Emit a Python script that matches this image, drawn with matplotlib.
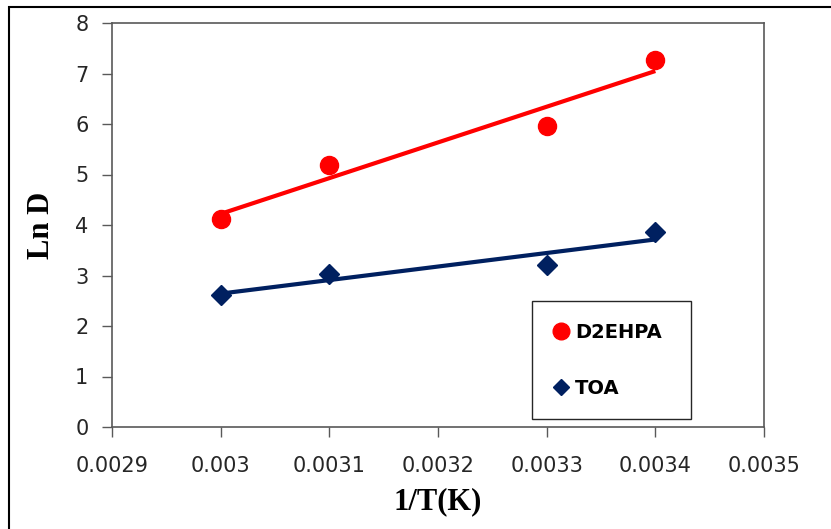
import numpy as np
import matplotlib
matplotlib.use('Agg')
import matplotlib.pyplot as plt
from matplotlib.patches import Rectangle
from matplotlib.lines import Line2D

# data
inv_T = [0.0030, 0.0031, 0.0033, 0.0034]
d2ehpa = [4.12, 5.19, 5.96, 7.27]
toa = [2.61, 3.03, 3.21, 3.86]

x_ticks = [0.0029, 0.0030, 0.0031, 0.0032, 0.0033, 0.0034, 0.0035]
x_labels = ['0.0029', '0.003', '0.0031', '0.0032', '0.0033', '0.0034', '0.0035']
y_ticks = [0, 1, 2, 3, 4, 5, 6, 7, 8]

RED = '#FF0000'
BLUE = '#002060'

fig = plt.figure(figsize=(8.31, 5.29), dpi=100)
ax = fig.add_axes([112 / 831, 1 - 427 / 529, 652 / 831, 404 / 529])

def trend(x, y, color):
    '''
        :return: Void - draws a linear trendline over the data range
    '''
    k, b = np.polyfit(x, y, 1)
    xs = np.array([min(x), max(x)])
    ax.plot(xs, k * xs + b, color=color, linewidth=3, solid_capstyle='butt', zorder=2)

trend(inv_T, d2ehpa, RED)
trend(inv_T, toa, BLUE)
ax.plot(inv_T, d2ehpa, 'o', color=RED, markersize=13, zorder=3)
ax.plot(inv_T, toa, 'D', color=BLUE, markersize=10, zorder=3)

ax.set_xlim(0.0029, 0.0035)
ax.set_ylim(0, 8)
ax.set_xticks(x_ticks)
ax.set_xticklabels(x_labels)
ax.set_yticks(y_ticks)
ax.tick_params(axis='both', direction='out', length=7, width=1, color='#595959',
               labelsize=15, labelcolor='#262626')
ax.tick_params(axis='x', pad=14)
ax.tick_params(axis='y', pad=10)
for s in ax.spines.values():
    s.set_color('#595959')
    s.set_linewidth(1.2)

ax.set_xlabel('1/T(K)', fontfamily='Liberation Serif', fontweight='bold', fontsize=22, labelpad=8)
ax.set_ylabel('Ln D', fontfamily='Liberation Serif', fontweight='bold', fontsize=22, labelpad=14)

handles = [Line2D([], [], marker='o', color=RED, linestyle='none', markersize=12),
           Line2D([], [], marker='D', color=BLUE, linestyle='none', markersize=8)]
leg = ax.legend(handles, ['D2EHPA', 'TOA'], loc='lower left',
                bbox_to_anchor=(420 / 652, 8 / 404, 159 / 652, 118 / 404), mode='expand',
                frameon=True, fancybox=False, edgecolor='#262626', framealpha=1,
                prop={'family': 'DejaVu Sans', 'weight': 'bold', 'size': 14},
                labelspacing=1.9, handlelength=0.8, handletextpad=0.3,
                borderpad=1.1, borderaxespad=0)
leg.get_frame().set_linewidth(1.0)

# outer frame around the picture
fig.patches.append(Rectangle((9 / 831, -0.1), 1.2, 1.1 - 7 / 529, transform=fig.transFigure,
                             fill=False, edgecolor='black', linewidth=1.5))

fig.savefig('out.png', dpi=100)
